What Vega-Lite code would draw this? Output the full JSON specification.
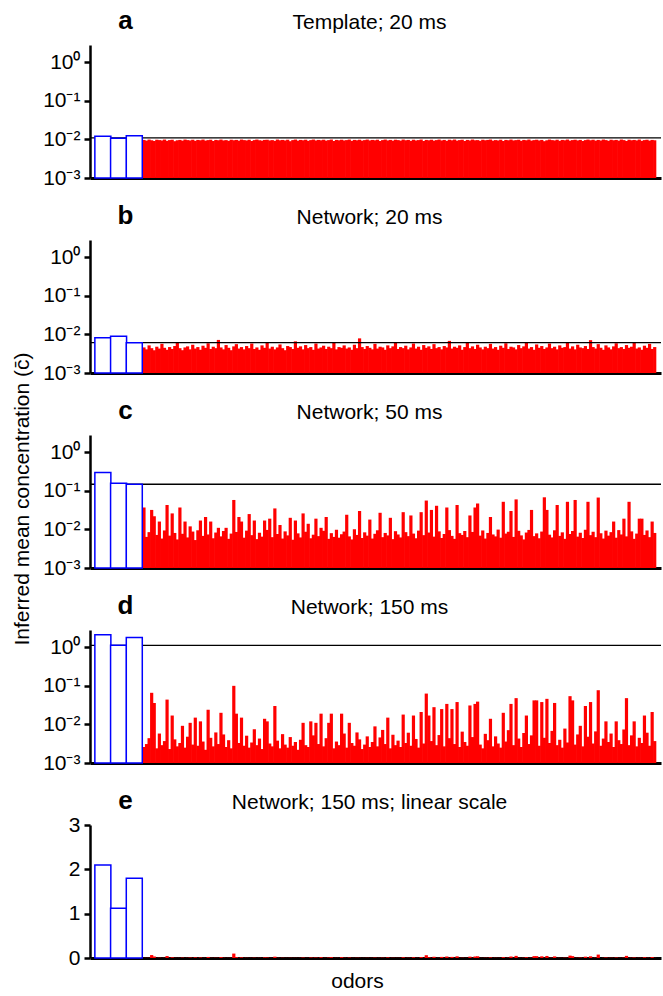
{
"$schema": "https://vega.github.io/schema/vega-lite/v6.json",
"padding": {"left": 11, "top": 7, "right": 0, "bottom": 0},
"title": {"text": "Inferred mean concentration (c\u0304)", "orient": "left", "anchor": "middle", "fontSize": 21, "offset": 10},
"spacing": 14,
"datasets": {
"targets": [
{"panel":"a","odor":1,"c":0.012},{"panel":"a","odor":2,"c":0.0108},{"panel":"a","odor":3,"c":0.0124},
{"panel":"b","odor":1,"c":0.0082},{"panel":"b","odor":2,"c":0.009},{"panel":"b","odor":3,"c":0.0061},
{"panel":"c","odor":1,"c":0.298},{"panel":"c","odor":2,"c":0.157},{"panel":"c","odor":3,"c":0.148},
{"panel":"d","odor":1,"c":2.1},{"panel":"d","odor":2,"c":1.12},{"panel":"d","odor":3,"c":1.8}
],
"thresholds": [{"panel":"a","t":0.011},{"panel":"b","t":0.0061},{"panel":"c","t":0.148},{"panel":"d","t":1.12}],
"others": [
{"i":1,"a":0.0097,"b":0.0046,"c":0.037,"d":0.0026},
{"i":2,"a":0.0093,"b":0.0041,"c":0.0064,"d":0.0031},
{"i":3,"a":0.0099,"b":0.0052,"c":0.0085,"d":0.0044},
{"i":4,"a":0.0095,"b":0.0044,"c":0.032,"d":0.066},
{"i":5,"a":0.0091,"b":0.0039,"c":0.022,"d":0.036},
{"i":6,"a":0.0098,"b":0.0048,"c":0.0072,"d":0.0024},
{"i":7,"a":0.0096,"b":0.0043,"c":0.016,"d":0.0058},
{"i":8,"a":0.0094,"b":0.0057,"c":0.0058,"d":0.0029},
{"i":9,"a":0.0099,"b":0.0045,"c":0.0094,"d":0.0037},
{"i":10,"a":0.0092,"b":0.004,"c":0.043,"d":0.044},
{"i":11,"a":0.0096,"b":0.0047,"c":0.0069,"d":0.0023},
{"i":12,"a":0.0098,"b":0.0042,"c":0.026,"d":0.017},
{"i":13,"a":0.009,"b":0.005,"c":0.0081,"d":0.0041},
{"i":14,"a":0.0095,"b":0.0061,"c":0.0055,"d":0.0027},
{"i":15,"a":0.0097,"b":0.0044,"c":0.037,"d":0.0033},
{"i":16,"a":0.0093,"b":0.0039,"c":0.0077,"d":0.0092},
{"i":17,"a":0.0099,"b":0.0046,"c":0.016,"d":0.0025},
{"i":18,"a":0.0096,"b":0.0049,"c":0.0062,"d":0.0048},
{"i":19,"a":0.0094,"b":0.0041,"c":0.012,"d":0.011},
{"i":20,"a":0.0098,"b":0.0054,"c":0.0088,"d":0.003},
{"i":21,"a":0.0092,"b":0.0043,"c":0.0053,"d":0.015},
{"i":22,"a":0.0097,"b":0.0047,"c":0.0095,"d":0.0028},
{"i":23,"a":0.0095,"b":0.004,"c":0.017,"d":0.012},
{"i":24,"a":0.0099,"b":0.0051,"c":0.0068,"d":0.0036},
{"i":25,"a":0.0093,"b":0.0045,"c":0.021,"d":0.0022},
{"i":26,"a":0.0096,"b":0.0059,"c":0.0074,"d":0.024},
{"i":27,"a":0.0098,"b":0.0042,"c":0.016,"d":0.0045},
{"i":28,"a":0.0091,"b":0.0048,"c":0.0059,"d":0.0027},
{"i":29,"a":0.0097,"b":0.0044,"c":0.0083,"d":0.0062},
{"i":30,"a":0.0095,"b":0.0072,"c":0.011,"d":0.0031},
{"i":31,"a":0.0099,"b":0.0046,"c":0.0066,"d":0.02},
{"i":32,"a":0.0094,"b":0.0041,"c":0.0091,"d":0.0055},
{"i":33,"a":0.0096,"b":0.0053,"c":0.011,"d":0.0026},
{"i":34,"a":0.0092,"b":0.0045,"c":0.0057,"d":0.0039},
{"i":35,"a":0.0098,"b":0.0039,"c":0.0078,"d":0.0024},
{"i":36,"a":0.0095,"b":0.0049,"c":0.058,"d":0.1},
{"i":37,"a":0.0097,"b":0.0056,"c":0.0086,"d":0.019},
{"i":38,"a":0.0093,"b":0.0043,"c":0.021,"d":0.0033},
{"i":39,"a":0.0099,"b":0.0047,"c":0.016,"d":0.015},
{"i":40,"a":0.0096,"b":0.0041,"c":0.0061,"d":0.0028},
{"i":41,"a":0.0094,"b":0.005,"c":0.0093,"d":0.0051},
{"i":42,"a":0.0098,"b":0.0044,"c":0.025,"d":0.0025},
{"i":43,"a":0.0091,"b":0.0058,"c":0.0071,"d":0.0034},
{"i":44,"a":0.0096,"b":0.0042,"c":0.017,"d":0.0075},
{"i":45,"a":0.0099,"b":0.0046,"c":0.0056,"d":0.0029},
{"i":46,"a":0.0095,"b":0.004,"c":0.0082,"d":0.0043},
{"i":47,"a":0.0093,"b":0.0052,"c":0.0065,"d":0.0023},
{"i":48,"a":0.0097,"b":0.0045,"c":0.017,"d":0.014},
{"i":49,"a":0.0098,"b":0.0063,"c":0.0097,"d":0.012},
{"i":50,"a":0.0094,"b":0.0043,"c":0.019,"d":0.0032},
{"i":51,"a":0.0096,"b":0.0048,"c":0.0063,"d":0.0027},
{"i":52,"a":0.0092,"b":0.0041,"c":0.035,"d":0.03},
{"i":53,"a":0.0099,"b":0.0046,"c":0.0076,"d":0.0038},
{"i":54,"a":0.0095,"b":0.0055,"c":0.013,"d":0.0024},
{"i":55,"a":0.0097,"b":0.0044,"c":0.0058,"d":0.0056},
{"i":56,"a":0.0094,"b":0.0039,"c":0.0089,"d":0.003},
{"i":57,"a":0.0098,"b":0.005,"c":0.007,"d":0.0025},
{"i":58,"a":0.009,"b":0.0047,"c":0.02,"d":0.0047},
{"i":59,"a":0.0096,"b":0.0042,"c":0.0054,"d":0.0028},
{"i":60,"a":0.0099,"b":0.0066,"c":0.017,"d":0.0035},
{"i":61,"a":0.0093,"b":0.0045,"c":0.0079,"d":0.0022},
{"i":62,"a":0.0097,"b":0.0049,"c":0.0062,"d":0.004},
{"i":63,"a":0.0095,"b":0.0041,"c":0.026,"d":0.011},
{"i":64,"a":0.0098,"b":0.0053,"c":0.0087,"d":0.0029},
{"i":65,"a":0.0092,"b":0.0044,"c":0.014,"d":0.0026},
{"i":66,"a":0.0096,"b":0.0047,"c":0.0059,"d":0.012},
{"i":67,"a":0.0099,"b":0.004,"c":0.0073,"d":0.0052},
{"i":68,"a":0.0094,"b":0.0058,"c":0.019,"d":0.011},
{"i":69,"a":0.0097,"b":0.0043,"c":0.0067,"d":0.0031},
{"i":70,"a":0.0095,"b":0.0046,"c":0.011,"d":0.019},
{"i":71,"a":0.0098,"b":0.0051,"c":0.0092,"d":0.0027},
{"i":72,"a":0.0093,"b":0.0042,"c":0.021,"d":0.0044},
{"i":73,"a":0.0096,"b":0.0048,"c":0.0057,"d":0.011},
{"i":74,"a":0.0099,"b":0.0044,"c":0.008,"d":0.019},
{"i":75,"a":0.0091,"b":0.006,"c":0.0064,"d":0.0024},
{"i":76,"a":0.0097,"b":0.0041,"c":0.0098,"d":0.0036},
{"i":77,"a":0.0095,"b":0.0047,"c":0.0061,"d":0.0029},
{"i":78,"a":0.0098,"b":0.0045,"c":0.0075,"d":0.019},
{"i":79,"a":0.0094,"b":0.0052,"c":0.0088,"d":0.0058},
{"i":80,"a":0.0096,"b":0.0043,"c":0.024,"d":0.0025},
{"i":81,"a":0.0099,"b":0.0046,"c":0.0066,"d":0.011},
{"i":82,"a":0.0092,"b":0.004,"c":0.0055,"d":0.0033},
{"i":83,"a":0.0097,"b":0.0054,"c":0.0101,"d":0.0028},
{"i":84,"a":0.0095,"b":0.0044,"c":0.0072,"d":0.0062},
{"i":85,"a":0.0098,"b":0.0079,"c":0.03,"d":0.0041},
{"i":86,"a":0.0093,"b":0.0047,"c":0.006,"d":0.0023},
{"i":87,"a":0.0096,"b":0.0042,"c":0.0084,"d":0.003},
{"i":88,"a":0.0099,"b":0.005,"c":0.0069,"d":0.0049},
{"i":89,"a":0.0094,"b":0.0045,"c":0.018,"d":0.0026},
{"i":90,"a":0.0097,"b":0.0041,"c":0.0058,"d":0.0035},
{"i":91,"a":0.0095,"b":0.0057,"c":0.0077,"d":0.0089},
{"i":92,"a":0.0098,"b":0.0043,"c":0.0095,"d":0.0027},
{"i":93,"a":0.0091,"b":0.0048,"c":0.027,"d":0.0046},
{"i":94,"a":0.0096,"b":0.0046,"c":0.0063,"d":0.0072},
{"i":95,"a":0.0099,"b":0.004,"c":0.0081,"d":0.0031},
{"i":96,"a":0.0094,"b":0.0052,"c":0.007,"d":0.015},
{"i":97,"a":0.0097,"b":0.0044,"c":0.02,"d":0.0024},
{"i":98,"a":0.0093,"b":0.0049,"c":0.0056,"d":0.0054},
{"i":99,"a":0.0098,"b":0.0062,"c":0.009,"d":0.0029},
{"i":100,"a":0.0096,"b":0.0042,"c":0.0074,"d":0.0038},
{"i":101,"a":0.0093,"b":0.0047,"c":0.0062,"d":0.0026},
{"i":102,"a":0.0099,"b":0.0044,"c":0.028,"d":0.018},
{"i":103,"a":0.0095,"b":0.0051,"c":0.0085,"d":0.0033},
{"i":104,"a":0.0097,"b":0.0041,"c":0.0067,"d":0.0061},
{"i":105,"a":0.0092,"b":0.0046,"c":0.023,"d":0.0028},
{"i":106,"a":0.0098,"b":0.0058,"c":0.0078,"d":0.017},
{"i":107,"a":0.0094,"b":0.0043,"c":0.0059,"d":0.0042},
{"i":108,"a":0.0096,"b":0.0048,"c":0.0093,"d":0.0025},
{"i":109,"a":0.0099,"b":0.004,"c":0.028,"d":0.021},
{"i":110,"a":0.0091,"b":0.0053,"c":0.0071,"d":0.0032},
{"i":111,"a":0.0097,"b":0.0045,"c":0.056,"d":0.063},
{"i":112,"a":0.0095,"b":0.0049,"c":0.0083,"d":0.017},
{"i":113,"a":0.0098,"b":0.0042,"c":0.032,"d":0.0037},
{"i":114,"a":0.0093,"b":0.0056,"c":0.0065,"d":0.028},
{"i":115,"a":0.0096,"b":0.0044,"c":0.041,"d":0.0029},
{"i":116,"a":0.0099,"b":0.0047,"c":0.0089,"d":0.0053},
{"i":117,"a":0.0094,"b":0.0041,"c":0.006,"d":0.025},
{"i":118,"a":0.0097,"b":0.005,"c":0.0076,"d":0.0027},
{"i":119,"a":0.0092,"b":0.0046,"c":0.037,"d":0.034},
{"i":120,"a":0.0098,"b":0.0068,"c":0.0096,"d":0.0044},
{"i":121,"a":0.0095,"b":0.0043,"c":0.0068,"d":0.025},
{"i":122,"a":0.0099,"b":0.0048,"c":0.0057,"d":0.0031},
{"i":123,"a":0.0093,"b":0.0045,"c":0.043,"d":0.038},
{"i":124,"a":0.0096,"b":0.0052,"c":0.008,"d":0.0026},
{"i":125,"a":0.0098,"b":0.004,"c":0.0072,"d":0.0065},
{"i":126,"a":0.0091,"b":0.0047,"c":0.0091,"d":0.0035},
{"i":127,"a":0.0097,"b":0.0061,"c":0.0063,"d":0.0028},
{"i":128,"a":0.0094,"b":0.0044,"c":0.023,"d":0.031},
{"i":129,"a":0.0099,"b":0.0049,"c":0.0086,"d":0.0047},
{"i":130,"a":0.0095,"b":0.0042,"c":0.037,"d":0.034},
{"i":131,"a":0.0096,"b":0.0054,"c":0.047,"d":0.039},
{"i":132,"a":0.0092,"b":0.0046,"c":0.0069,"d":0.003},
{"i":133,"a":0.0098,"b":0.0041,"c":0.0094,"d":0.0024},
{"i":134,"a":0.0095,"b":0.0048,"c":0.0058,"d":0.0057},
{"i":135,"a":0.0097,"b":0.0044,"c":0.0081,"d":0.0039},
{"i":136,"a":0.0099,"b":0.0057,"c":0.021,"d":0.014},
{"i":137,"a":0.0093,"b":0.0043,"c":0.0074,"d":0.0027},
{"i":138,"a":0.0096,"b":0.0047,"c":0.0066,"d":0.0049},
{"i":139,"a":0.0094,"b":0.004,"c":0.0099,"d":0.0032},
{"i":140,"a":0.0098,"b":0.0051,"c":0.0061,"d":0.0025},
{"i":141,"a":0.0091,"b":0.0045,"c":0.052,"d":0.02},
{"i":142,"a":0.0097,"b":0.0059,"c":0.0078,"d":0.0036},
{"i":143,"a":0.0095,"b":0.0042,"c":0.0087,"d":0.0071},
{"i":144,"a":0.0099,"b":0.0048,"c":0.03,"d":0.034},
{"i":145,"a":0.0094,"b":0.0046,"c":0.0064,"d":0.0029},
{"i":146,"a":0.0096,"b":0.0041,"c":0.06,"d":0.048},
{"i":147,"a":0.0098,"b":0.0053,"c":0.0092,"d":0.0043},
{"i":148,"a":0.0092,"b":0.0044,"c":0.007,"d":0.0026},
{"i":149,"a":0.0097,"b":0.0049,"c":0.0055,"d":0.006},
{"i":150,"a":0.0095,"b":0.0063,"c":0.0083,"d":0.017},
{"i":151,"a":0.0099,"b":0.0043,"c":0.0097,"d":0.0031},
{"i":152,"a":0.0093,"b":0.0047,"c":0.032,"d":0.0052},
{"i":153,"a":0.0096,"b":0.004,"c":0.0067,"d":0.042},
{"i":154,"a":0.0098,"b":0.0055,"c":0.0079,"d":0.042},
{"i":155,"a":0.0094,"b":0.0045,"c":0.0059,"d":0.0028},
{"i":156,"a":0.0097,"b":0.005,"c":0.0088,"d":0.038},
{"i":157,"a":0.009,"b":0.0042,"c":0.068,"d":0.0045},
{"i":158,"a":0.0095,"b":0.0046,"c":0.032,"d":0.046},
{"i":159,"a":0.0099,"b":0.0058,"c":0.0073,"d":0.0033},
{"i":160,"a":0.0096,"b":0.0044,"c":0.0062,"d":0.0068},
{"i":161,"a":0.0094,"b":0.0048,"c":0.0095,"d":0.036},
{"i":162,"a":0.0098,"b":0.0041,"c":0.043,"d":0.0029},
{"i":163,"a":0.0092,"b":0.0052,"c":0.0068,"d":0.004},
{"i":164,"a":0.0097,"b":0.0045,"c":0.0084,"d":0.0025},
{"i":165,"a":0.0095,"b":0.0047,"c":0.0057,"d":0.0078},
{"i":166,"a":0.0099,"b":0.006,"c":0.052,"d":0.0034},
{"i":167,"a":0.0093,"b":0.0043,"c":0.0076,"d":0.054},
{"i":168,"a":0.0096,"b":0.0049,"c":0.0091,"d":0.042},
{"i":169,"a":0.0098,"b":0.0041,"c":0.058,"d":0.003},
{"i":170,"a":0.0094,"b":0.0054,"c":0.0065,"d":0.0055},
{"i":171,"a":0.0097,"b":0.0046,"c":0.0082,"d":0.0092},
{"i":172,"a":0.0091,"b":0.0044,"c":0.006,"d":0.0027},
{"i":173,"a":0.0096,"b":0.005,"c":0.0098,"d":0.03},
{"i":174,"a":0.0099,"b":0.0042,"c":0.052,"d":0.0048},
{"i":175,"a":0.0095,"b":0.0071,"c":0.0071,"d":0.038},
{"i":176,"a":0.0098,"b":0.0047,"c":0.0087,"d":0.0032},
{"i":177,"a":0.0093,"b":0.0043,"c":0.0063,"d":0.0066},
{"i":178,"a":0.0097,"b":0.0056,"c":0.067,"d":0.077},
{"i":179,"a":0.0094,"b":0.0045,"c":0.0079,"d":0.0028},
{"i":180,"a":0.0099,"b":0.004,"c":0.0058,"d":0.0043},
{"i":181,"a":0.0096,"b":0.0052,"c":0.0093,"d":0.012},
{"i":182,"a":0.0092,"b":0.0046,"c":0.0069,"d":0.0035},
{"i":183,"a":0.0098,"b":0.0041,"c":0.0085,"d":0.0058},
{"i":184,"a":0.0095,"b":0.0049,"c":0.016,"d":0.0026},
{"i":185,"a":0.0097,"b":0.0059,"c":0.0061,"d":0.012},
{"i":186,"a":0.0093,"b":0.0044,"c":0.0096,"d":0.0039},
{"i":187,"a":0.0099,"b":0.0047,"c":0.0074,"d":0.0031},
{"i":188,"a":0.0096,"b":0.0042,"c":0.019,"d":0.0074},
{"i":189,"a":0.0091,"b":0.0053,"c":0.0066,"d":0.048},
{"i":190,"a":0.0098,"b":0.0045,"c":0.052,"d":0.0029},
{"i":191,"a":0.0095,"b":0.0048,"c":0.0089,"d":0.0052},
{"i":192,"a":0.0097,"b":0.0062,"c":0.0057,"d":0.012},
{"i":193,"a":0.0094,"b":0.0043,"c":0.0078,"d":0.0027},
{"i":194,"a":0.0099,"b":0.0046,"c":0.019,"d":0.0045},
{"i":195,"a":0.0092,"b":0.004,"c":0.019,"d":0.0033},
{"i":196,"a":0.0096,"b":0.0051,"c":0.0072,"d":0.017},
{"i":197,"a":0.0098,"b":0.0045,"c":0.0094,"d":0.0061},
{"i":198,"a":0.0093,"b":0.0057,"c":0.0063,"d":0.0028},
{"i":199,"a":0.0097,"b":0.0042,"c":0.016,"d":0.021},
{"i":200,"a":0.0095,"b":0.0047,"c":0.0081,"d":0.0037}
]
},
"vconcat": [
{
"width": 571, "height": 133,
"resolve": {"scale": {"x": "independent"}},
"layer": [
{"data": {"name": "others"}, "mark": {"type": "bar", "color": "#FF0000", "width": 3.2},
 "encoding": {
  "x": {"field": "i", "type": "quantitative", "scale": {"domain": [-18.08, 200.5], "nice": false, "zero": false}, "axis": {"ticks": false, "labels": false, "title": null, "domainWidth": 3}},
  "y": {"field": "a", "type": "quantitative", "scale": {"type": "log", "domain": [0.001, 2.8], "nice": false}, "axis": {"values": [0.001, 0.01, 0.1, 1], "labelFontSize": 21, "labelExpr": "datum.value > 0.5 ? '10⁰' : datum.value > 0.05 ? '10⁻¹' : datum.value > 0.005 ? '10⁻²' : '10⁻³'", "title": "a", "titleAngle": 0, "titleX": 35, "titleY": -17, "titleAlign": "center", "titleBaseline": "alphabetic", "titleFontSize": 26, "titleFontWeight": "bold"}},
  "y2": {"datum": 0.001}}},
{"data": {"name": "thresholds"}, "transform": [{"filter": "datum.panel === 'a'"}], "mark": {"type": "rule", "color": "black", "strokeWidth": 1.3},
 "encoding": {"y": {"field": "t", "type": "quantitative"}}},
{"data": {"name": "targets"}, "transform": [{"filter": "datum.panel === 'a'"}], "mark": {"type": "bar", "fill": "white", "stroke": "#0000FF", "strokeWidth": 1.5, "width": 16},
 "encoding": {
  "x": {"field": "odor", "type": "quantitative", "scale": {"domain": [0.5, 36.2], "nice": false, "zero": false}, "axis": {"orient": "top", "domain": false, "ticks": false, "labels": false, "title": "Template; 20 ms", "titleX": 279, "titleY": -17, "titleAngle": 0, "titleAlign": "center", "titleBaseline": "alphabetic", "titleFontSize": 21, "titleFontWeight": "normal"}},
  "y": {"field": "c", "type": "quantitative"},
  "y2": {"datum": 0.001}}}
]
},
{
"width": 571, "height": 133,
"resolve": {"scale": {"x": "independent"}},
"layer": [
{"data": {"name": "others"}, "mark": {"type": "bar", "color": "#FF0000", "width": 3.2},
 "encoding": {
  "x": {"field": "i", "type": "quantitative", "scale": {"domain": [-18.08, 200.5], "nice": false, "zero": false}, "axis": {"ticks": false, "labels": false, "title": null, "domainWidth": 3}},
  "y": {"field": "b", "type": "quantitative", "scale": {"type": "log", "domain": [0.001, 2.8], "nice": false}, "axis": {"values": [0.001, 0.01, 0.1, 1], "labelFontSize": 21, "labelExpr": "datum.value > 0.5 ? '10⁰' : datum.value > 0.05 ? '10⁻¹' : datum.value > 0.005 ? '10⁻²' : '10⁻³'", "title": "b", "titleAngle": 0, "titleX": 35, "titleY": -17, "titleAlign": "center", "titleBaseline": "alphabetic", "titleFontSize": 26, "titleFontWeight": "bold"}},
  "y2": {"datum": 0.001}}},
{"data": {"name": "thresholds"}, "transform": [{"filter": "datum.panel === 'b'"}], "mark": {"type": "rule", "color": "black", "strokeWidth": 1.3},
 "encoding": {"y": {"field": "t", "type": "quantitative"}}},
{"data": {"name": "targets"}, "transform": [{"filter": "datum.panel === 'b'"}], "mark": {"type": "bar", "fill": "white", "stroke": "#0000FF", "strokeWidth": 1.5, "width": 16},
 "encoding": {
  "x": {"field": "odor", "type": "quantitative", "scale": {"domain": [0.5, 36.2], "nice": false, "zero": false}, "axis": {"orient": "top", "domain": false, "ticks": false, "labels": false, "title": "Network; 20 ms", "titleX": 279, "titleY": -17, "titleAngle": 0, "titleAlign": "center", "titleBaseline": "alphabetic", "titleFontSize": 21, "titleFontWeight": "normal"}},
  "y": {"field": "c", "type": "quantitative"},
  "y2": {"datum": 0.001}}}
]
},
{
"width": 571, "height": 133,
"resolve": {"scale": {"x": "independent"}},
"layer": [
{"data": {"name": "others"}, "mark": {"type": "bar", "color": "#FF0000", "width": 3.2},
 "encoding": {
  "x": {"field": "i", "type": "quantitative", "scale": {"domain": [-18.08, 200.5], "nice": false, "zero": false}, "axis": {"ticks": false, "labels": false, "title": null, "domainWidth": 3}},
  "y": {"field": "c", "type": "quantitative", "scale": {"type": "log", "domain": [0.001, 2.8], "nice": false}, "axis": {"values": [0.001, 0.01, 0.1, 1], "labelFontSize": 21, "labelExpr": "datum.value > 0.5 ? '10⁰' : datum.value > 0.05 ? '10⁻¹' : datum.value > 0.005 ? '10⁻²' : '10⁻³'", "title": "c", "titleAngle": 0, "titleX": 35, "titleY": -17, "titleAlign": "center", "titleBaseline": "alphabetic", "titleFontSize": 26, "titleFontWeight": "bold"}},
  "y2": {"datum": 0.001}}},
{"data": {"name": "thresholds"}, "transform": [{"filter": "datum.panel === 'c'"}], "mark": {"type": "rule", "color": "black", "strokeWidth": 1.3},
 "encoding": {"y": {"field": "t", "type": "quantitative"}}},
{"data": {"name": "targets"}, "transform": [{"filter": "datum.panel === 'c'"}], "mark": {"type": "bar", "fill": "white", "stroke": "#0000FF", "strokeWidth": 1.5, "width": 16},
 "encoding": {
  "x": {"field": "odor", "type": "quantitative", "scale": {"domain": [0.5, 36.2], "nice": false, "zero": false}, "axis": {"orient": "top", "domain": false, "ticks": false, "labels": false, "title": "Network; 50 ms", "titleX": 279, "titleY": -17, "titleAngle": 0, "titleAlign": "center", "titleBaseline": "alphabetic", "titleFontSize": 21, "titleFontWeight": "normal"}},
  "y": {"field": "c", "type": "quantitative"},
  "y2": {"datum": 0.001}}}
]
},
{
"width": 571, "height": 133,
"resolve": {"scale": {"x": "independent"}},
"layer": [
{"data": {"name": "others"}, "mark": {"type": "bar", "color": "#FF0000", "width": 3.2},
 "encoding": {
  "x": {"field": "i", "type": "quantitative", "scale": {"domain": [-18.08, 200.5], "nice": false, "zero": false}, "axis": {"ticks": false, "labels": false, "title": null, "domainWidth": 3}},
  "y": {"field": "d", "type": "quantitative", "scale": {"type": "log", "domain": [0.001, 2.8], "nice": false}, "axis": {"values": [0.001, 0.01, 0.1, 1], "labelFontSize": 21, "labelExpr": "datum.value > 0.5 ? '10⁰' : datum.value > 0.05 ? '10⁻¹' : datum.value > 0.005 ? '10⁻²' : '10⁻³'", "title": "d", "titleAngle": 0, "titleX": 35, "titleY": -17, "titleAlign": "center", "titleBaseline": "alphabetic", "titleFontSize": 26, "titleFontWeight": "bold"}},
  "y2": {"datum": 0.001}}},
{"data": {"name": "thresholds"}, "transform": [{"filter": "datum.panel === 'd'"}], "mark": {"type": "rule", "color": "black", "strokeWidth": 1.3},
 "encoding": {"y": {"field": "t", "type": "quantitative"}}},
{"data": {"name": "targets"}, "transform": [{"filter": "datum.panel === 'd'"}], "mark": {"type": "bar", "fill": "white", "stroke": "#0000FF", "strokeWidth": 1.5, "width": 16},
 "encoding": {
  "x": {"field": "odor", "type": "quantitative", "scale": {"domain": [0.5, 36.2], "nice": false, "zero": false}, "axis": {"orient": "top", "domain": false, "ticks": false, "labels": false, "title": "Network; 150 ms", "titleX": 279, "titleY": -17, "titleAngle": 0, "titleAlign": "center", "titleBaseline": "alphabetic", "titleFontSize": 21, "titleFontWeight": "normal"}},
  "y": {"field": "c", "type": "quantitative"},
  "y2": {"datum": 0.001}}}
]
},
{
"width": 571, "height": 133,
"resolve": {"scale": {"x": "independent"}},
"layer": [
{"data": {"name": "others"}, "mark": {"type": "bar", "color": "#FF0000", "width": 3.2},
 "encoding": {
  "x": {"field": "i", "type": "quantitative", "scale": {"domain": [-18.08, 200.5], "nice": false, "zero": false}, "axis": {"ticks": false, "labels": false, "title": "odors", "titleX": 267, "titleY": 29, "titleAngle": 0, "titleAlign": "center", "titleBaseline": "alphabetic", "titleFontSize": 21, "titleFontWeight": "normal", "domainWidth": 3}},
  "y": {"field": "d", "type": "quantitative", "scale": {"domain": [0, 3], "nice": false}, "axis": {"values": [0, 1, 2, 3], "labelFontSize": 21, "title": "e", "titleAngle": 0, "titleX": 35, "titleY": -17, "titleAlign": "center", "titleBaseline": "alphabetic", "titleFontSize": 26, "titleFontWeight": "bold"}},
  "y2": {"datum": 0}}},
{"data": {"name": "targets"}, "transform": [{"filter": "datum.panel === 'd'"}], "mark": {"type": "bar", "fill": "white", "stroke": "#0000FF", "strokeWidth": 1.5, "width": 16},
 "encoding": {
  "x": {"field": "odor", "type": "quantitative", "scale": {"domain": [0.5, 36.2], "nice": false, "zero": false}, "axis": {"orient": "top", "domain": false, "ticks": false, "labels": false, "title": "Network; 150 ms; linear scale", "titleX": 279, "titleY": -17, "titleAngle": 0, "titleAlign": "center", "titleBaseline": "alphabetic", "titleFontSize": 21, "titleFontWeight": "normal"}},
  "y": {"field": "c", "type": "quantitative"},
  "y2": {"datum": 0}}}
]
}
],
"config": {
 "view": {"stroke": null},
 "font": "Liberation Sans",
 "axis": {"grid": false, "labelFont": "Liberation Sans", "labelFontSize": 21, "labelColor": "black", "domainColor": "black", "domainWidth": 2.5, "tickColor": "black", "tickWidth": 2.5, "tickSize": 6, "labelPadding": 4, "titleFont": "Liberation Sans", "titleColor": "black"},
 "title": {"font": "Liberation Sans", "color": "black", "fontWeight": "normal", "fontSize": 21}
}
}
